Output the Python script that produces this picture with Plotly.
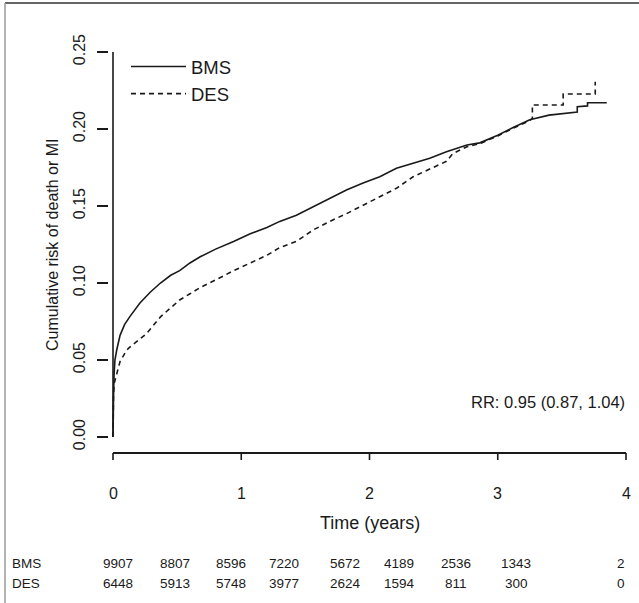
import plotly.graph_objects as go

# ---- data ----
bms_t = [0, 0, 0.004, 0.008, 0.015, 0.029, 0.055, 0.09, 0.13, 0.21, 0.29, 0.37, 0.45,
         0.52, 0.6, 0.68, 0.8, 0.94, 1.07, 1.2, 1.3, 1.43, 1.56, 1.69, 1.82, 1.95,
         2.08, 2.21, 2.34, 2.47, 2.6, 2.76, 2.86, 3.0, 3.12, 3.25, 3.4, 3.5, 3.62,
         3.62, 3.70, 3.70, 3.85]
bms_v = [0, 0.005, 0.025, 0.04, 0.05, 0.0565, 0.066, 0.073, 0.078, 0.087, 0.094, 0.100,
         0.105, 0.108, 0.113, 0.117, 0.122, 0.127, 0.132, 0.136, 0.140, 0.144, 0.1496,
         0.155, 0.1604, 0.165, 0.169, 0.1745, 0.178, 0.181, 0.1853, 0.1896, 0.191,
         0.196, 0.201, 0.206, 0.209, 0.210, 0.211, 0.2145, 0.2150, 0.217, 0.217]

des_t = [0, 0, 0.004, 0.01, 0.02, 0.035, 0.055, 0.09, 0.12, 0.2, 0.26, 0.37, 0.45,
         0.52, 0.6, 0.68, 0.8, 0.94, 1.07, 1.2, 1.3, 1.43, 1.56, 1.69, 1.82, 1.95,
         2.08, 2.21, 2.34, 2.47, 2.6, 2.65, 2.76, 2.86, 3.0, 3.12, 3.25, 3.27, 3.27,
         3.51, 3.51, 3.76, 3.76]
des_v = [0, 0.01, 0.028, 0.035, 0.038, 0.042, 0.049, 0.054, 0.0576, 0.063, 0.067,
         0.078, 0.084, 0.089, 0.093, 0.097, 0.102, 0.108, 0.113, 0.118, 0.123, 0.127,
         0.1344, 0.140, 0.145, 0.1506, 0.156, 0.1615, 0.169, 0.174, 0.179, 0.184,
         0.1885, 0.1905, 0.1955, 0.2005, 0.2055, 0.207, 0.2156, 0.2156, 0.2227,
         0.2227, 0.2307]

series_names = ["BMS", "DES"]
at_risk_times = [0, 0.5, 1, 1.5, 2, 2.5, 3, 3.5, 4]
at_risk_bms = [9907, 8807, 8596, 7220, 5672, 4189, 2536, 1343, 2]
at_risk_des = [6448, 5913, 5748, 3977, 2624, 1594, 811, 300, 0]

x_ticks = [0, 1, 2, 3, 4]
y_ticks = [0.00, 0.05, 0.10, 0.15, 0.20, 0.25]
y_ticktext = ["0.00", "0.05", "0.10", "0.15", "0.20", "0.25"]
rr_text = "RR: 0.95 (0.87, 1.04)"

# ---- layout constants (pixels) ----
W, H = 639, 603
X0PX, XPX = 113, 128.25          # pixel of t=0, pixels per year
Y0PX, YPX = 437, 1540            # pixel of risk=0, pixels per unit risk
PAD = 4                          # extra room on each side of the x span
PT, PB = 40, 463                 # plot area top / bottom
AXIS_PX, TICK = 453, 7           # x-axis line position and tick length
XLAB_PX = 493                    # centre row of the x tick labels
FONT = "Liberation Sans, Arial, Helvetica, sans-serif"
INK = "#1a1a1a"
col_px = [118, 175, 231, 284, 345, 399, 456, 516, 621]   # pixel centres of table columns


def px_x(p):
    return p / W


def px_y(p):
    return 1 - p / H


def yval(p):          # pixel row -> risk value
    return (Y0PX - p) / YPX


x_lo = x_ticks[0] - PAD / XPX
x_hi = x_ticks[-1] + PAD / XPX
dom_l = X0PX - PAD
dom_r = X0PX + (x_ticks[-1] - x_ticks[0]) * XPX + PAD

fig = go.Figure()
fig.add_trace(go.Scatter(x=bms_t, y=bms_v, mode="lines", name=series_names[0],
                         line=dict(color=INK, width=1.6)))
fig.add_trace(go.Scatter(x=des_t, y=des_v, mode="lines", name=series_names[1],
                         line=dict(color=INK, width=1.6, dash="5px,4px")))

ann = []
# x tick labels placed through the x axis scale
for tv in x_ticks:
    ann.append(dict(text=str(tv), xref="x", yref="paper", x=tv, y=px_y(XLAB_PX),
                    xanchor="center", yanchor="middle", showarrow=False,
                    font=dict(size=16, color=INK, family=FONT)))
ann.append(dict(text="Cumulative risk of death or MI", xref="paper", yref="paper",
                x=px_x(52), y=px_y(245), xanchor="center", yanchor="middle",
                textangle=-90, showarrow=False,
                font=dict(size=16, color=INK, family=FONT)))
ann.append(dict(text="Time (years)", xref="paper", yref="paper",
                x=px_x(370), y=px_y(523), xanchor="center", yanchor="middle",
                showarrow=False, font=dict(size=18, color=INK, family=FONT)))
ann.append(dict(text=rr_text, xref="paper", yref="paper", x=px_x(627), xanchor="right",
                y=px_y(402), yanchor="middle", showarrow=False,
                font=dict(size=16.5, color=INK, family=FONT)))
for row_y, name, vals in [(563, series_names[0], at_risk_bms),
                          (583, series_names[1], at_risk_des)]:
    ann.append(dict(text=name, xref="paper", yref="paper", x=px_x(10), xanchor="left",
                    y=px_y(row_y), yanchor="middle", showarrow=False,
                    font=dict(size=13.5, color=INK, family=FONT)))
    for cx, v in zip(col_px, vals):
        ann.append(dict(text=str(v), xref="paper", yref="paper", x=px_x(cx),
                        xanchor="center", y=px_y(row_y), yanchor="middle",
                        showarrow=False, font=dict(size=13.5, color=INK, family=FONT)))

shapes = [
    # y axis line spanning 0 .. 0.25 (R style)
    dict(type="line", xref="x", yref="y", x0=x_ticks[0], x1=x_ticks[0],
         y0=y_ticks[0], y1=y_ticks[-1], line=dict(color=INK, width=1.6)),
    # x axis line (R style, offset below the data region)
    dict(type="line", xref="x", yref="y", x0=x_ticks[0], x1=x_ticks[-1],
         y0=yval(AXIS_PX), y1=yval(AXIS_PX), line=dict(color=INK, width=2)),
    # outer frame of the figure image
    dict(type="line", xref="paper", yref="paper", x0=px_x(5), x1=1,
         y0=px_y(3), y1=px_y(3), line=dict(color="#333333", width=1.5)),
    dict(type="line", xref="paper", yref="paper", x0=px_x(5), x1=px_x(5),
         y0=px_y(3), y1=0, line=dict(color="#9a9a9a", width=1.5)),
]
# x axis tick marks at the axis' own tick values
for tv in x_ticks:
    shapes.append(dict(type="line", xref="x", yref="y", x0=tv, x1=tv,
                       y0=yval(AXIS_PX), y1=yval(AXIS_PX + TICK),
                       line=dict(color=INK, width=1.6)))

fig.update_layout(
    width=W, height=H,
    margin=dict(l=0, r=0, t=0, b=0, pad=0, autoexpand=False),
    paper_bgcolor="white", plot_bgcolor="rgba(0,0,0,0)",
    font=dict(family=FONT, color=INK, size=16),
    showlegend=True,
    legend=dict(x=px_x(126), y=px_y(48), xanchor="left", yanchor="top",
                bgcolor="rgba(0,0,0,0)", font=dict(size=18.5, family=FONT, color=INK),
                tracegroupgap=0, itemwidth=55),
    annotations=ann,
    shapes=shapes,
    xaxis=dict(domain=[px_x(dom_l), px_x(dom_r)], range=[x_lo, x_hi], tickvals=x_ticks,
               showticklabels=False, automargin=False,
               ticks="", showline=False, showgrid=False, zeroline=False),
    yaxis=dict(domain=[px_y(PB), px_y(PT)], automargin=False,
               range=[yval(PB), yval(PT)], tickvals=y_ticks, ticktext=y_ticktext,
               ticks="outside", ticklen=TICK + PAD, tickwidth=1.6, tickcolor=INK,
               showline=False, showgrid=False, zeroline=False, tickangle=-90,
               ticklabelstandoff=6,
               tickfont=dict(size=16, family=FONT, color=INK)),
)

fig.write_html("out.html", config={"staticPlot": True, "displayModeBar": False},
               post_script="document.body.style.margin='0';")
